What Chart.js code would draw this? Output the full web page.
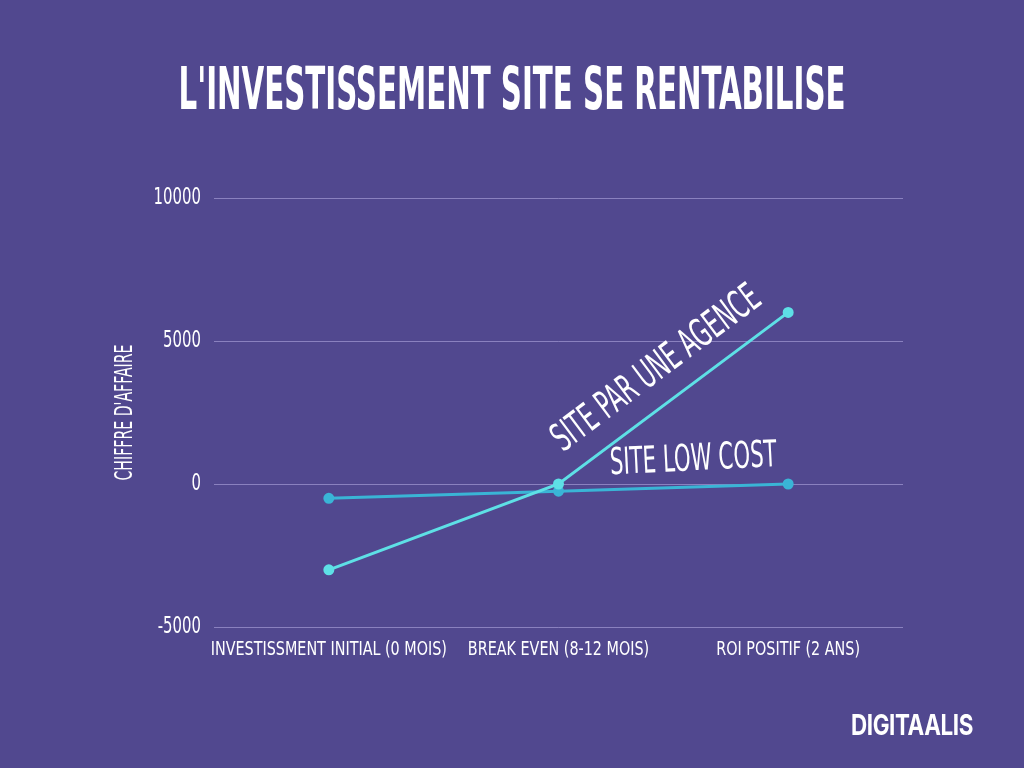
<!DOCTYPE html>
<html><head><meta charset="utf-8">
<script src="https://cdn.jsdelivr.net/npm/chart.js@4.4.1/dist/chart.umd.min.js"></script>
<style>
html,body{margin:0;padding:0;background:#51488f;width:1024px;height:768px;overflow:hidden}
#wrap{position:absolute;left:0;top:0;width:1024px;height:768px}
#title{position:absolute;left:512px;top:54px;color:#fff;font-family:"DejaVu Sans Condensed",sans-serif;font-weight:bold;font-size:58px;line-height:70px;white-space:nowrap}
#logo{position:absolute;left:851px;top:707px;color:#fff;font-family:Inter,Lato,sans-serif;font-weight:700;font-size:29px;line-height:36px;letter-spacing:-0.5px;white-space:nowrap;transform-origin:left center}
</style></head>
<body>
<div id="wrap"><canvas id="c" width="1024" height="768"></canvas></div>
<div id="title">L'INVESTISSEMENT SITE SE RENTABILISE</div>
<div id="logo">DIGITAALIS</div>
<script>
const categories = ["INVESTISSMENT INITIAL (0 MOIS)", "BREAK EVEN (8-12 MOIS)", "ROI POSITIF (2 ANS)"];
const agenceValues = [-3000, 0, 6000];
const lowCostValues = [-500, -250, 0];
const yTicks = [-5000, 0, 5000, 10000];
const seriesNames = ["SITE PAR UNE AGENCE", "SITE LOW COST"];
const yAxisTitle = "CHIFFRE D'AFFAIRE";

(function(){
  const t = document.getElementById('title');
  const w = t.getBoundingClientRect().width;
  t.style.transformOrigin = 'left center';
  t.style.transform = 'translateX(' + (-333.5) + 'px) scaleX(' + (667 / w) + ')';
  const l = document.getElementById('logo');
  const lw = l.getBoundingClientRect().width;
  l.style.transform = 'scaleX(' + (122 / lw) + ')';
})();

const NARROW = '"DejaVu Sans Condensed",sans-serif';
const X_SIZE = 19, Y_SIZE = 23;
const condenseBySize = { 19: 0.84, 23: 0.72 };

function drawCondensed(ctx, text, x, y, angle, size, targetW){
  ctx.save();
  ctx.translate(x, y);
  ctx.rotate(angle);
  ctx.font = size + 'px ' + NARROW;
  const w = ctx.measureText(text).width;
  ctx.scale(targetW / w, 1);
  ctx.fillStyle = '#ffffff';
  ctx.textAlign = 'center';
  ctx.textBaseline = 'middle';
  ctx.fillText(text, 0, 0);
  ctx.restore();
}

const condensePlugin = {
  id: 'condense',
  beforeDraw(chart){
    const ctx = chart.ctx;
    if (ctx._condensed) return;
    ctx._condensed = true;
    const orig = ctx.fillText.bind(ctx);
    ctx.fillText = function(text, x, y, maxW){
      const m = /(\d+)px "DejaVu Sans Condensed"/.exec(ctx.font);
      const f = m ? condenseBySize[m[1]] : undefined;
      if (f) {
        ctx.save(); ctx.translate(x, y); ctx.scale(f, 1);
        orig(text, 0, 0); ctx.restore();
      } else if (maxW !== undefined) { orig(text, x, y, maxW); } else { orig(text, x, y); }
    };
  }
};

const labelPlugin = {
  id: 'labels',
  afterDatasetsDraw(chart){
    const ctx = chart.ctx;
    const a = chart.getDatasetMeta(0).data;
    const b = chart.getDatasetMeta(1).data;
    const ang = Math.atan2(a[2].y - a[1].y, a[2].x - a[1].x);
    const mx = (a[1].x + a[2].x) / 2, my = (a[1].y + a[2].y) / 2;
    const d = 37;
    drawCondensed(ctx, seriesNames[0], mx + 6 + Math.sin(ang) * d, my + 1 - Math.cos(ang) * d, ang, 39, 250);
    const bx = (b[1].x + b[2].x) / 2 + 20, by = (b[1].y + b[2].y) / 2 - 27;
    drawCondensed(ctx, seriesNames[1], bx, by, -0.05, 37, 167);
  },
  afterDraw(chart){
    const ca = chart.chartArea;
    drawCondensed(chart.ctx, yAxisTitle, 126, (ca.top + ca.bottom) / 2, -Math.PI / 2, 24, 136);
  }
};

new Chart(document.getElementById('c'), {
  type: 'line',
  data: {
    labels: categories,
    datasets: [
      { label: seriesNames[0], data: agenceValues, borderColor: '#5ee0e6', backgroundColor: '#5ee0e6', borderWidth: 3, pointRadius: 4, pointHoverRadius: 4, tension: 0 },
      { label: seriesNames[1], data: lowCostValues, borderColor: '#3ab5d6', backgroundColor: '#3ab5d6', borderWidth: 3, pointRadius: 4, pointHoverRadius: 4, tension: 0 }
    ]
  },
  options: {
    responsive: false,
    animation: false,
    events: [],
    layout: { padding: { left: 0, top: 198, right: 121, bottom: 0 } },
    plugins: { legend: { display: false }, tooltip: { enabled: false }, title: { display: false } },
    scales: {
      x: {
        offset: true,
        grid: { display: false, drawTicks: false },
        border: { display: false },
        ticks: { color: '#ffffff', font: { family: NARROW, size: X_SIZE }, padding: 12, maxRotation: 0, autoSkip: false },
        afterFit(s){ s.height = 141; }
      },
      y: {
        min: -5000, max: 10000,
        afterBuildTicks(s){ s.ticks = yTicks.map(v => ({ value: v })); },
        grid: { color: 'rgba(195,185,240,0.5)', lineWidth: 1, drawTicks: false },
        border: { display: false },
        ticks: { color: '#ffffff', font: { family: NARROW, size: Y_SIZE }, padding: 13, callback: v => String(v) },
        afterFit(s){ s.width = 214; }
      }
    }
  },
  plugins: [condensePlugin, labelPlugin]
});
</script>
</body></html>
